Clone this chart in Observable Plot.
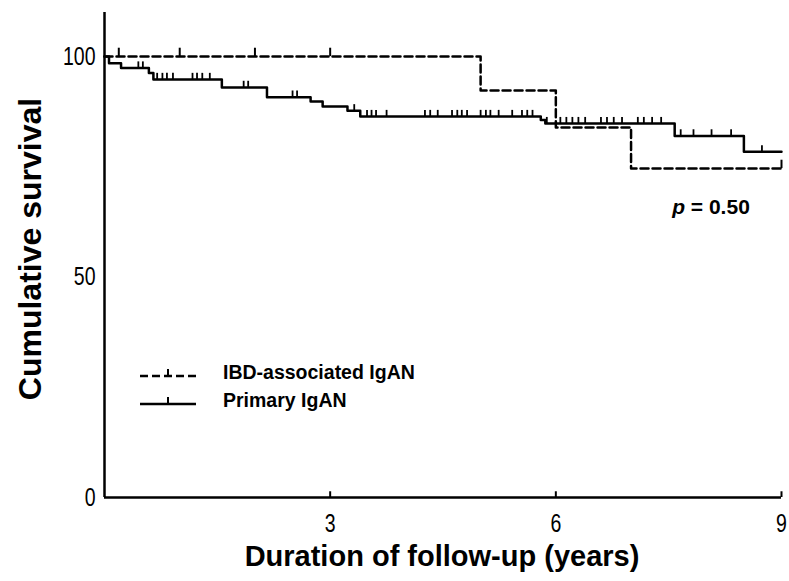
<!DOCTYPE html>
<html>
<head>
<meta charset="utf-8">
<script src="https://cdn.jsdelivr.net/npm/d3@7"></script>
<script src="https://cdn.jsdelivr.net/npm/@observablehq/plot@0.6"></script>
<style>
  html, body { margin: 0; padding: 0; background: #fff; }
  #wrap { position: relative; width: 789px; height: 581px; font-family: "Liberation Sans", Arial, sans-serif; color: #000; }
  #wrap > svg { position: absolute; left: 0; top: 0; }
  .ov { position: absolute; white-space: nowrap; font-weight: bold; color: #000; }
  #ytitle { left: 30px; top: 249px; transform: translate(-50%, -50%) rotate(-90deg); font-size: 32px; }
  #xtitle { left: 442px; top: 556px; transform: translate(-50%, -50%); font-size: 29px; }
  #pval { left: 711px; top: 207px; transform: translate(-50%, -50%); font-size: 21px; }
  .leg { position: absolute; left: 140px; display: flex; align-items: center; font-weight: bold; font-size: 19.5px; }
  .leg svg { display: block; margin-right: 27px; }
</style>
</head>
<body>
<div id="wrap"></div>
<script>
// ---- Data ----
// Primary IgAN (solid): step times (years) and survival (%)
const primaryTimes = [0, 0.06, 0.22, 0.59, 0.65, 1.56, 2.16, 2.74, 2.90, 3.23, 3.40, 5.80, 5.86, 7.58, 8.50, 9.0];
const primarySurv  = [100, 98.5, 97.4, 96.3, 94.8, 93.0, 90.8, 89.8, 88.7, 87.7, 86.4, 85.6, 84.8, 82.0, 78.4, 78.4];
const primaryCensor = [0.45, 0.51, 0.70, 0.77, 0.83, 0.91, 1.17, 1.23, 1.30, 1.40, 1.85, 1.91, 2.50, 2.56,
  3.32, 3.49, 3.55, 3.61, 3.75, 4.26, 4.33, 4.43, 4.62, 4.69, 4.75, 4.82, 5.0, 5.07, 5.13, 5.24, 5.42,
  5.55, 5.62, 5.69, 5.88, 6.06, 6.14, 6.22, 6.30, 6.39, 6.60, 6.68, 6.77, 6.88, 7.09, 7.17, 7.28, 7.40,
  7.66, 7.83, 8.07, 8.33, 8.74];
// IBD-associated IgAN (dashed)
const ibdTimes = [0, 5.0, 6.0, 7.0, 9.0];
const ibdSurv  = [100, 92.3, 83.9, 74.6, 74.6];
const ibdCensor = [0.19, 1.0, 2.0, 3.0, 9.0];

const xTicks = [3, 6, 9];
const yTicks = [0, 50, 100];
const seriesNames = ["IBD-associated IgAN", "Primary IgAN"];
const xTitle = "Duration of follow-up (years)";
const yTitle = "Cumulative survival";
const pText = "0.50";

// ---- Build tables ----
const toRows = (ts, ss) => ts.map((t, i) => ({t, s: ss[i]}));
const stepAt = (ts, ss, t) => { let v = ss[0]; for (let i = 0; i < ts.length; i++) if (ts[i] <= t) v = ss[i]; return v; };
const primaryRows = toRows(primaryTimes, primarySurv);
const ibdRows = toRows(ibdTimes, ibdSurv);
const primaryCens = primaryCensor.map(t => ({t, s: stepAt(primaryTimes, primarySurv, t)}));
const ibdCens = ibdCensor.map(t => ({t, s: stepAt(ibdTimes, ibdSurv, t)}));

const SW = 2.5;
const chart = Plot.plot({
  width: 789,
  height: 581,
  marginLeft: 104,
  marginRight: 8,
  marginTop: 12,
  marginBottom: 84,
  style: { fontFamily: "'Liberation Sans', Arial, sans-serif", color: "#000", background: "#fff" },
  x: { domain: [0, 9] },
  y: { domain: [0, 110] },
  marks: [
    Plot.axisY({ ticks: yTicks, tickSize: 0, tickPadding: 9, fontSize: 25, label: null }),
    Plot.axisX({ ticks: xTicks, tickSize: 0, tickPadding: 17, fontSize: 25, label: null }),
    Plot.ruleX(xTicks, { y1: 0, y2: 1.3, stroke: "#000", strokeWidth: 2 }),
    Plot.ruleY([0], { stroke: "#000", strokeWidth: 2.5 }),
    Plot.ruleX([0], { y1: 0, y2: 110, stroke: "#000", strokeWidth: 2.5 }),
    Plot.line(ibdRows, { x: "t", y: "s", curve: "step-after", stroke: "#000", strokeWidth: SW, strokeDasharray: "8,4" }),
    Plot.ruleX(ibdCens, { x: "t", y1: "s", y2: d => d.s + 1.9, stroke: "#000", strokeWidth: 2 }),
    Plot.line(primaryRows, { x: "t", y: "s", curve: "step-after", stroke: "#000", strokeWidth: SW }),
    Plot.ruleX(primaryCens, { x: "t", y1: "s", y2: d => d.s + 1.4, stroke: "#000", strokeWidth: 1.8 })
  ]
});

// condensed look for tick labels (Helvetica Condensed-like)
d3.select(chart).selectAll('g[aria-label="y-axis tick label"] text, g[aria-label="x-axis tick label"] text')
  .attr("transform", function () { return (this.getAttribute("transform") || "") + " scale(0.78,1)"; });

const wrap = document.getElementById("wrap");
wrap.appendChild(chart);

function addDiv(id, html, cls) {
  const d = document.createElement("div");
  d.className = cls || "ov";
  if (id) d.id = id;
  d.innerHTML = html;
  wrap.appendChild(d);
  return d;
}
addDiv("ytitle", yTitle);
addDiv("xtitle", xTitle);
addDiv("pval", `<i>p</i> = ${pText}`);

const legendSample = (dashed) =>
  `<svg width="56" height="14"><line x1="0" x2="56" y1="10" y2="10" stroke="#000" stroke-width="${SW}" ${dashed ? 'stroke-dasharray="8,4"' : ''}/>` +
  `<line x1="28" x2="28" y1="10" y2="3" stroke="#000" stroke-width="2"/></svg>`;
const l1 = addDiv(null, legendSample(true) + `<span>${seriesNames[0]}</span>`, "leg");
l1.style.top = "361px";
const l2 = addDiv(null, legendSample(false) + `<span>${seriesNames[1]}</span>`, "leg");
l2.style.top = "389px";
</script>
</body>
</html>
